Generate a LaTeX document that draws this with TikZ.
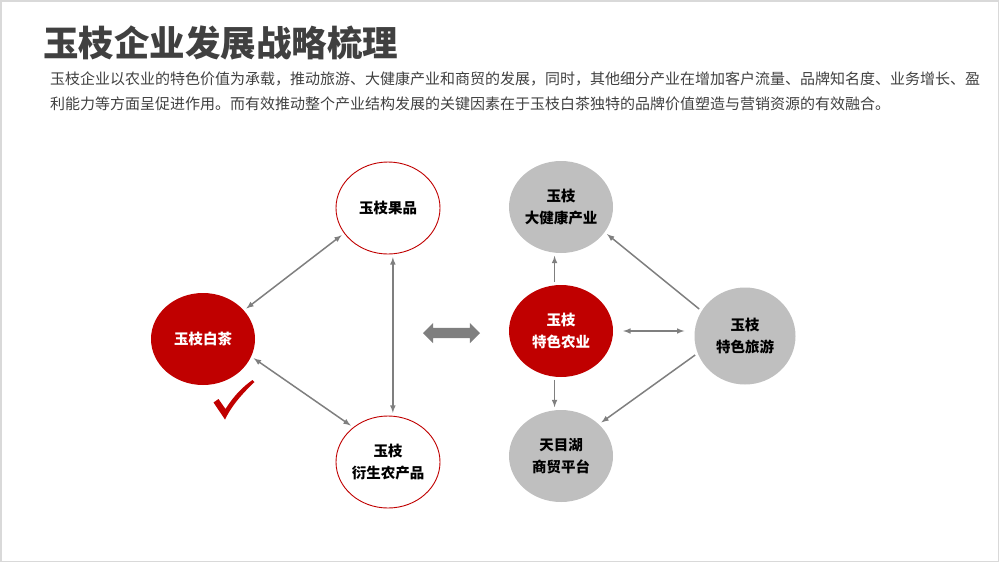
\documentclass[tikz,border=0pt]{standalone}
\usepackage{fontspec}
\setmainfont{Noto Sans CJK SC}
\usetikzlibrary{shapes.geometric, shapes.arrows}
\usepackage{xcolor}

\definecolor{zred}{HTML}{C00000}
\definecolor{zgrey}{HTML}{BFBFBF}
\definecolor{zline}{HTML}{7F7F7F}
\definecolor{ztext}{HTML}{404040}

\tikzset{
  circ/.style={ellipse, minimum width=104pt, minimum height=92pt, inner sep=0pt,
    align=center, font=\fontsize{14.5}{22}\selectfont\bfseries},
  whitecirc/.style={circ, draw=zred, line width=0.9pt, fill=white},
  redcirc/.style={circ, fill=zred, text=white},
  greycirc/.style={circ, fill=zgrey},
  link/.style={draw=zline, line width=1.5pt, shorten >=3pt, shorten <=3pt}
}

\begin{document}
\begin{tikzpicture}[x=1pt,y=-1pt,>=latex]
            \useasboundingbox (0,0) rectangle (1000,563);
            % frame of the slide
            \draw[gray!30, line width=1.5pt] (1,1) rectangle (998.5,561.5);

            % title and text
            \node[anchor=base west, inner sep=0pt, text=ztext, font=\fontsize{35.5}{40}\selectfont\bfseries] (title) at (43,56) {玉枝企业发展战略梳理};
            \node[anchor=north west, inner sep=0pt, text=ztext, align=left, font=\fontsize{15}{25}\selectfont] (intro) at (50,71.5)
              {玉枝企业以农业的特色价值为承载，推动旅游、大健康产业和商贸的发展，同时，其他细分产业在增加客户流量、品牌知名度、业务增长、盈\\
               利能力等方面呈促进作用。而有效推动整个产业结构发展的关键因素在于玉枝白茶独特的品牌价值塑造与营销资源的有效融合。};

            % left triangle
            \node[redcirc] (baicha) at (203,339) {玉枝白茶};
            \node[whitecirc] (guopin) at (388,208) {玉枝果品};
            \node[whitecirc] (yansheng) at (388,462) {玉枝\\衍生农产品};

            \draw[link, <->] (guopin.210) -- (baicha.35);
            \draw[link, <->] (baicha.-20) -- (yansheng.135);
            \draw[link, <->] (guopin.-84) -- (yansheng.84);

            % check mark
            \fill[zred] (213.5,402.5) -- (218.5,399) -- (225.5,409) .. controls (235,394) and (244,386) .. (252.5,380)
              -- (254.5,382) .. controls (243,393) and (232,405) .. (225,419.5) -- cycle;

            % middle arrow
            \node[double arrow, fill=zline, inner xsep=0pt, inner ysep=5pt, minimum height=57pt,
              double arrow head extend=5pt] (both) at (451.5,333) {};

            % right side
            \node[redcirc] (nongye) at (561,331) {玉枝\\特色农业};
            \node[greycirc] (jiankang) at (561,207) {玉枝\\大健康产业};
            \node[greycirc] (tianmu) at (561,456) {天目湖\\商贸平台};
            \node[greycirc, minimum width=101pt, minimum height=97pt] (lvyou) at (745,336) {玉枝\\特色旅游};

            \draw[link, ->] (nongye.98) -- (jiankang.-98);
            \draw[link, ->] (nongye.-98) -- (tianmu.98);
            \draw[link, <->, shorten >=10pt, shorten <=10pt] (nongye.east) -- (nongye.east -| lvyou.west);
            \draw[link, ->] (lvyou.150) -- (jiankang.-30);
            \draw[link, ->] (lvyou.200) -- (tianmu.40);
        \end{tikzpicture}
\end{document}
